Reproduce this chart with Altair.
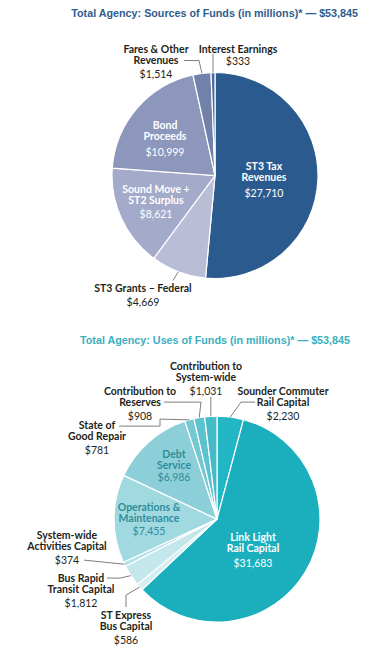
import math
import altair as alt
import pandas as pd

# ---------------- data ----------------
src_title = "Total Agency: Sources of Funds (in millions)* — $53,845"
src_names = ["ST3 Tax Revenues", "ST3 Grants – Federal", "Sound Move + ST2 Surplus",
             "Bond Proceeds", "Fares & Other Revenues", "Interest Earnings"]
src_values = [27710, 4669, 8621, 10999, 1514, 333]

use_title = "Total Agency: Uses of Funds (in millions)* — $53,845"
use_names = ["Sounder Commuter Rail Capital", "Link Light Rail Capital", "ST Express Bus Capital",
             "Bus Rapid Transit Capital", "System-wide Activities Capital",
             "Operations & Maintenance", "Debt Service", "State of Good Repair",
             "Contribution to Reserves", "Contribution to System-wide"]
use_values = [2230, 31683, 586, 1812, 374, 7455, 6986, 781, 908, 1031]

# ---------------- style ----------------
src_colors = ["#2B5B8E", "#B9BED6", "#A4AACA", "#8D97BB", "#7181AA", "#4D6B9E"]
use_colors = ["#22B5C3", "#1BAFBD", "#D5EEF1", "#C4E7EB", "#B3E0E6", "#A1D9E0",
              "#8DCFD8", "#74C8D1", "#5CC2CC", "#45BBC7"]
ALL_NAMES = src_names + use_names
ALL_COLORS = src_colors + use_colors

LABEL_FONT = "Lato, Roboto, sans-serif"
TITLE_FONT = "Liberation Sans, Arial, sans-serif"
FS = 10.5
LH = 11
YADJ = 1.0
DARK = "#231F20"
TEAL_TXT = "#2E8E9C"
LEADER = "#7F7F7F"
R = 103
W = 368
SP = 10

# layout (page coordinates): lines, x, first line y, value y, style
src_labels = {
    "ST3 Tax Revenues": (["ST3 Tax", "Revenues"], 264, 166, 193, "white"),
    "Sound Move + ST2 Surplus": (["Sound Move +", "ST2 Surplus"], 156, 189, 214, "white"),
    "Bond Proceeds": (["Bond", "Proceeds"], 165, 125, 152, "white"),
    "Fares & Other Revenues": (["Fares & Other", "Revenues"], 156, 49, 74, "dark"),
    "Interest Earnings": (["Interest Earnings"], 238, 49, 61, "dark"),
    "ST3 Grants – Federal": (["ST3 Grants – Federal"], 143, 288, 302, "dark"),
}
src_leaders = {
    "Fares & Other Revenues": [(184, 61), (199, 61)],
    "Interest Earnings": [("edge", 54)],
    "ST3 Grants – Federal": [(173, 281)],
}
use_labels = {
    "Link Light Rail Capital": (["Link Light", "Rail Capital"], 253, 538, 564, "white"),
    "Debt Service": (["Debt", "Service"], 174, 455, 478, "teal"),
    "Operations & Maintenance": (["Operations &", "Maintenance"], 149, 508, 532, "teal"),
    "Contribution to System-wide": (["Contribution to", "System-wide"], 206, 367, 392, "dark"),
    "Contribution to Reserves": (["Contribution to", "Reserves"], 140, 392, 417, "dark"),
    "Sounder Commuter Rail Capital": (["Sounder Commuter", "Rail Capital"], 283, 392, 417, "dark"),
    "State of Good Repair": (["State of", "Good Repair"], 97, 426, 451, "dark"),
    "System-wide Activities Capital": (["System-wide", "Activities Capital"], 67, 536, 561, "dark"),
    "Bus Rapid Transit Capital": (["Bus Rapid", "Transit Capital"], 81, 579, 604, "dark"),
    "ST Express Bus Capital": (["ST Express", "Bus Capital"], 126, 616, 641, "dark"),
}
use_leaders = {
    "Contribution to System-wide": [("edge", 398)],
    "Contribution to Reserves": [(164, 403), (201, 403)],
    "Sounder Commuter Rail Capital": [(255, 403), (241, 403)],
    "State of Good Repair": [(119, 427), (160, 427), (160, 420)],
    "System-wide Activities Capital": [(84, 561)],
    "Bus Rapid Transit Capital": [(107, 579), (120, 579)],
    "ST Express Bus Capital": [(126, 608), (126, 596)],
}

TOP1 = 24.5
TITLE2_TOP = 335.4
TOP2 = TITLE2_TOP + 10.75 + 1.75 + 4
H1 = TITLE2_TOP - SP - TOP1
H2 = 640 - TOP2


def panel(names, values, labels, leaders, cx, cy, top, height, title, tcolor, tdx):
    total = sum(values)
    df = pd.DataFrame({"name": names, "value": values, "idx": list(range(len(names)))})
    arcs = alt.Chart(df).mark_arc(outerRadius=R, stroke="white", strokeWidth=1.2).encode(
        theta=alt.Theta("value:Q", stack=True),
        order=alt.Order("idx:Q"),
        color=alt.Color("name:N", scale=alt.Scale(domain=ALL_NAMES, range=ALL_COLORS), legend=None),
        x=alt.value(cx - 8),
        y=alt.value(cy - top),
    )

    # leader end points from slice mid-angles
    edges = {}
    cum = 0
    for n, v in zip(names, values):
        mid = (cum + v / 2) / total * 2 * math.pi
        edges[n] = (cx + R * math.sin(mid), cy - R * math.cos(mid))
        cum += v

    rows = []
    for n, pts in leaders.items():
        ex, ey = edges[n]
        seq = [(ex if px == "edge" else px, py) for px, py in pts] + [(ex, ey)]
        for k, (px, py) in enumerate(seq):
            rows.append({"lid": n, "k": k, "px": px - 8, "py": py - top})
    lines = alt.Chart(pd.DataFrame(rows)).mark_line(color=LEADER, strokeWidth=1).encode(
        x=alt.X("px:Q", scale=None), y=alt.Y("py:Q", scale=None),
        detail="lid:N", order="k:Q")

    vmap = dict(zip(names, values))
    trows = []
    for n, (ls, x, y0, vy, style) in labels.items():
        trows.append({"t": "\n".join(ls), "x": x - 8, "y": y0 + YADJ - top, "w": "b", "s": style})
        trows.append({"t": f"${vmap[n]:,}", "x": x - 8, "y": vy + YADJ - top, "w": "n", "s": style})
    tdf = pd.DataFrame(trows)
    cols = {"white": "white", "teal": TEAL_TXT, "dark": DARK}
    layers = [arcs, lines]
    for s, c in cols.items():
        for w, fw in (("b", "bold"), ("n", "normal")):
            sub = tdf[(tdf.s == s) & (tdf.w == w)]
            if len(sub) == 0:
                continue
            layers.append(alt.Chart(sub).mark_text(
                font=LABEL_FONT, fontSize=FS, fontWeight=fw, color=c, baseline="middle",
                align="center", lineBreak="\n", lineHeight=LH
            ).encode(x=alt.X("x:Q", scale=None), y=alt.Y("y:Q", scale=None), text="t:N"))
    return alt.layer(*layers).properties(
        width=W, height=height,
        title=alt.TitleParams(text=title, anchor="end", frame="group", fontSize=10.75, font=TITLE_FONT,
                              fontWeight="bold", color=tcolor, dx=tdx, offset=4),
    )


p1 = panel(src_names, src_values, src_labels, src_leaders, 215, 176, TOP1, H1, src_title, "#2E5C8D", -18)
p2 = panel(use_names, use_values, use_labels, use_leaders, 217, 520, TOP2, H2, use_title, "#3AAFC0", -26)

chart = alt.vconcat(p1, p2, spacing=SP).properties(
    padding={"left": 0, "top": 0, "right": 0, "bottom": 0}
).configure_view(stroke=None)

chart.save("out.html", embed_options={"renderer": "svg", "actions": False})
